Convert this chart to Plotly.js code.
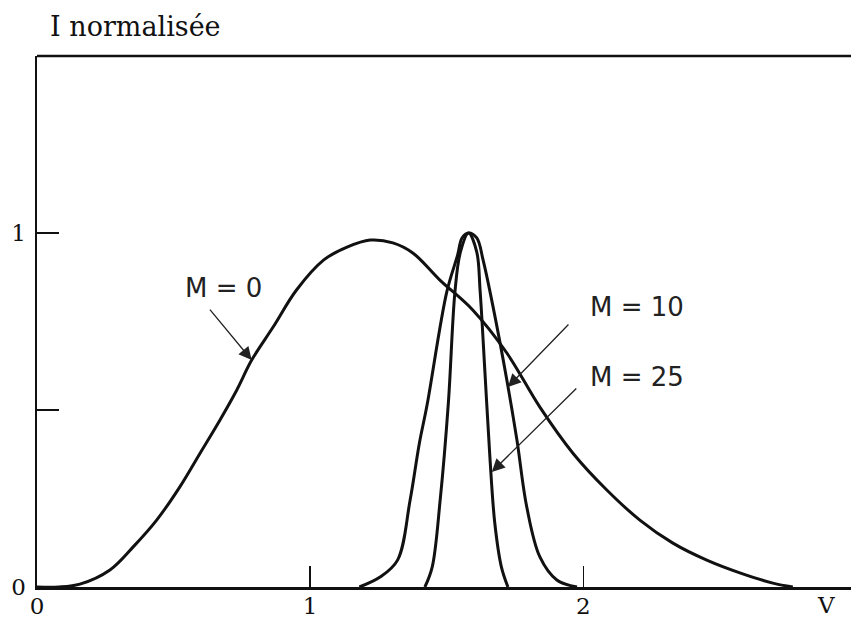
<!DOCTYPE html>
<html>
<head>
<meta charset="utf-8">
<script src="https://cdn.plot.ly/plotly-3.0.1.min.js"></script>
<style>html,body{margin:0;padding:0;background:#fff;}#chart{width:851px;height:619px;}</style>
</head>
<body>
<div id="chart"></div>
<script>
// Curve M = 0
var xM0 = [0, 0.08, 0.157, 0.267, 0.353, 0.438, 0.523, 0.597, 0.670, 0.731, 0.786, 0.865, 0.950, 1.05, 1.135, 1.22, 1.303, 1.377, 1.475, 1.596, 1.72, 1.841, 1.962, 2.086, 2.207, 2.328, 2.452, 2.573, 2.694, 2.767];
var yM0 = [0, 0, 0.008, 0.048, 0.114, 0.189, 0.283, 0.378, 0.472, 0.556, 0.641, 0.735, 0.839, 0.924, 0.96, 0.98, 0.972, 0.943, 0.867, 0.782, 0.661, 0.508, 0.378, 0.274, 0.189, 0.124, 0.076, 0.04, 0.011, 0];
// Curve M = 10
var xM10 = [1.18, 1.256, 1.32, 1.366, 1.40, 1.428, 1.50, 1.54, 1.556, 1.58, 1.61, 1.633, 1.67, 1.72, 1.757, 1.793, 1.841, 1.903, 1.977];
var yM10 = [0, 0.028, 0.076, 0.246, 0.407, 0.514, 0.833, 0.938, 0.986, 1.0, 0.986, 0.924, 0.79, 0.585, 0.415, 0.226, 0.085, 0.02, 0];
// Curve M = 25
var xM25 = [1.42, 1.447, 1.476, 1.506, 1.53, 1.55, 1.58, 1.61, 1.622, 1.64, 1.658, 1.676, 1.70, 1.724];
var yM25 = [0, 0.057, 0.246, 0.52, 0.833, 0.946, 1.0, 0.946, 0.839, 0.605, 0.367, 0.18, 0.057, 0];

var xTickVals = [0, 1, 2];
var xTickText = ['0', '1', '2'];
var yTickVals = [0, 0.5, 1];
var yTickText = ['0', '', '1'];
var curveLabels = ['M = 0', 'M = 10', 'M = 25'];

var lineStyle = {color: '#111', width: 3, shape: 'spline', smoothing: 1};
var traces = [
  {x: xM0, y: yM0, mode: 'lines', line: lineStyle, hoverinfo: 'skip'},
  {x: xM10, y: yM10, mode: 'lines', line: lineStyle, hoverinfo: 'skip'},
  {x: xM25, y: yM25, mode: 'lines', line: lineStyle, hoverinfo: 'skip'}
];

var serif = 'DejaVu Serif, Liberation Serif, serif';
var sans = 'DejaVu Sans, sans-serif';
var labFont = {family: sans, size: 26, color: '#222'};
var tickFont = {family: serif, size: 23, color: '#111'};

var layout = {
  width: 851, height: 619,
  margin: {l: 37, r: 0, t: 56, b: 32},
  paper_bgcolor: '#fff', plot_bgcolor: '#fff',
  showlegend: false,
  title: {text: 'I normalisée', x: 50/851, xanchor: 'left', y: 1 - 27/619, yanchor: 'middle',
          font: {family: serif, size: 27, color: '#111'}},
  xaxis: {range: [0, 2.98], showgrid: false, zeroline: false, showline: true, linecolor: '#111', linewidth: 2.5,
          ticks: 'inside', ticklen: 21, tickwidth: 1.5, tickcolor: '#111',
          tickvals: xTickVals, ticktext: xTickText, ticklabelstandoff: -3,
          tickfont: tickFont, fixedrange: true},
  yaxis: {range: [0, 1.5], showgrid: false, zeroline: false, showline: true, linecolor: '#111', linewidth: 2.5,
          ticks: 'inside', ticklen: 22, tickwidth: 1.5, tickcolor: '#111',
          tickvals: yTickVals, ticktext: yTickText, ticklabelstandoff: 4,
          tickfont: tickFont, fixedrange: true},
  shapes: [
    {type: 'line', xref: 'paper', yref: 'paper', x0: 0, x1: 1, y0: 1, y1: 1, line: {color: '#111', width: 2.5}}
  ],
  annotations: [
    {x: 2.89, y: 0, xref: 'x', yref: 'y', text: 'V', showarrow: false, yanchor: 'top', yshift: -3,
     font: tickFont},
    {x: 0.534, y: 0.845, xref: 'x', yref: 'y', text: curveLabels[0], showarrow: false, xanchor: 'left', font: labFont},
    {x: 2.017, y: 0.791, xref: 'x', yref: 'y', text: curveLabels[1], showarrow: false, xanchor: 'left', font: labFont},
    {x: 2.017, y: 0.593, xref: 'x', yref: 'y', text: curveLabels[2], showarrow: false, xanchor: 'left', font: labFont},
    {x: 0.786, y: 0.641, xref: 'x', yref: 'y', text: '', showarrow: true, ax: -43, ay: -52,
     arrowhead: 2, arrowsize: 2, arrowwidth: 1.3, arrowcolor: '#222'},
    {x: 1.724, y: 0.565, xref: 'x', yref: 'y', text: '', showarrow: true, ax: 62, ay: -64,
     arrowhead: 2, arrowsize: 2, arrowwidth: 1.3, arrowcolor: '#222'},
    {x: 1.665, y: 0.325, xref: 'x', yref: 'y', text: '', showarrow: true, ax: 86, ay: -85,
     arrowhead: 2, arrowsize: 2, arrowwidth: 1.3, arrowcolor: '#222'}
  ]
};

Plotly.newPlot('chart', traces, layout, {displayModeBar: false, staticPlot: true});
</script>
</body>
</html>
